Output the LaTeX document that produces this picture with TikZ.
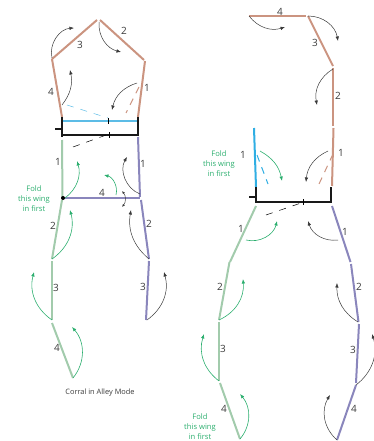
\documentclass[tikz,border=0pt]{standalone}
\usepackage{fontspec}
\setmainfont{Open Sans}
\usetikzlibrary{arrows.meta}
\definecolor{tanc}{HTML}{CB9480}
\definecolor{bluec}{HTML}{5CBCE6}
\definecolor{bluer}{HTML}{2FAEE3}
\definecolor{greenc}{HTML}{A2CBAC}
\definecolor{purpc}{HTML}{8A86BC}
\definecolor{agreen}{HTML}{2BAE6E}
\definecolor{dark}{HTML}{3A3A3A}
\tikzset{
 wing/.style={line width=2pt},
 post/.style={line width=1.8pt,black!90},
 tickm/.style={line width=0.7pt,black},
 dsh/.style={line width=0.5pt,dash pattern=on 7pt off 7pt},
 dshthick/.style={line width=1pt,dash pattern=on 7pt off 6pt},
 barr/.style={line width=0.5pt,dark,-{Latex[length=4.5pt,width=3.5pt]}},
 garr/.style={line width=0.6pt,agreen,-{Latex[length=4.5pt,width=3.5pt]}},
 num/.style={font=\fontsize{10}{10}\selectfont,text=dark,inner sep=0pt},
 fold/.style={font=\fontsize{7.6}{10}\selectfont,text=agreen,align=center,inner sep=0pt},
 captext/.style={font=\fontsize{7.4}{8}\selectfont,text=dark,inner sep=0pt},
}
\newcommand\seg[5]{\coordinate (#1s) at (#3);\coordinate (#1e) at (#4);\draw[#2,#5] (#1s) -- (#1e);}
\newcommand\bow[5]{\coordinate (#1s) at (#3);\coordinate (#1e) at (#4);\draw[#2] (#1s) to[#5] (#1e);}
\begin{document}
\begin{tikzpicture}[x=1pt,y=-1pt]
\useasboundingbox (0,0) rectangle (374,441);
% ---------- left figure
\seg{ta}{wing}{62,117}{52,59}{tanc}
\seg{tb}{wing}{52,59}{97,20}{tanc}
\seg{tc}{wing}{100,20}{144,60}{tanc}
\seg{td}{wing}{145,61}{138,117}{tanc}
\seg{bl}{wing}{62,121}{138,121}{bluec}
\seg{pa}{post}{62,117}{62,137}{}
\seg{pb}{post}{138,117}{138,136}{}
\seg{pc}{post}{62,135}{138,135}{}
\seg{pd}{post}{55,129}{62,129}{}
\seg{ka}{tickm}{108.5,118}{108.5,124}{}
\seg{kb}{tickm}{109.5,132}{109.5,138}{}
\seg{ga}{wing}{62,140}{62.5,198}{greenc}
\seg{gb}{wing}{62,200}{52,259}{greenc}
\seg{gc}{wing}{52,261}{52,320}{greenc}
\seg{gd}{wing}{52,323}{73,378}{greenc}
\seg{ua}{wing}{138,137}{140,197}{purpc}
\seg{ub}{wing}{63,198}{140,198}{purpc}
\seg{uc}{wing}{141,200}{149,259}{purpc}
\seg{ud}{wing}{149,261}{146,320}{purpc}
\node[circle,fill=black,inner sep=0pt,minimum size=4pt] (dot) at (63,198) {};
\seg{da}{dsh}{67,105}{108,118}{bluec}
\seg{db}{dshthick}{139,87}{126,113}{tanc}
\seg{dc}{dsh}{73,147}{109,134}{black}
\bow{aa}{barr}{52,58}{74,28}{bend left=50}
\bow{ab}{barr}{99,22}{121,52}{bend right=40}
\bow{ac}{barr}{62,105}{70,70}{bend right=25}
\bow{ad}{barr}{137,83}{112,110}{bend right=30}
\bow{ae}{garr}{65,198}{77,161}{bend right=35}
\bow{af}{garr}{116,195}{104,175}{bend right=45}
\bow{ag}{barr}{140,194}{127,157}{bend left=50}
\bow{ah}{barr,{Latex[length=3pt,width=2.5pt]}-{Latex[length=3pt,width=2.5pt]}}{122,191}{122,207}{bend left=40}
\bow{ai}{barr}{149,259}{131,210}{bend left=30}
\bow{aj}{garr}{52,259}{70,210}{bend right=35}
\bow{ak}{garr}{52,320}{34,272}{bend left=35}
\bow{al}{garr}{73,378}{72,327}{bend right=40}
\bow{am}{barr}{147,320}{164,272}{bend right=35}
\node[num] (n1) at (80,45) {3};
\node[num] (n2) at (124,31) {2};
\node[num] (n3) at (147,88) {1};
\node[num] (n4) at (51,92) {4};
\node[num] (n5) at (58,162) {1};
\node[num] (n6) at (102,193) {4};
\node[num] (n7) at (143,164) {1};
\node[num] (n8) at (53,226) {2};
\node[num] (n9) at (149,224) {2};
\node[num] (n10) at (56,288) {3};
\node[num] (n11) at (143,287) {3};
\node[num] (n12) at (57,348) {4};
\node[fold] (fa) at (34,199) {Fold\\this wing\\in first};
\node[captext] (cp) at (100,393) {Corral in Alley Mode};
% ---------- right figure
\seg{ra}{wing}{249,16}{306,16}{tanc}
\seg{rb}{wing}{308,16}{333,66}{tanc}
\seg{rc}{wing}{333,68}{333,126}{tanc}
\seg{rd}{wing}{333.5,128}{332,186}{tanc}
\seg{re}{wing}{254,128}{256,187}{bluer}
\seg{qa}{post}{256,187}{256,203}{}
\seg{qb}{post}{331,187}{331,203}{}
\seg{qc}{post}{256,202}{331,202}{}
\seg{qd}{post}{249,197}{256,197}{}
\seg{kc}{tickm}{303.5,199}{303.5,205}{}
\seg{rf}{wing}{256,206}{230,262}{greenc}
\seg{rg}{wing}{229.5,262}{219,320}{greenc}
\seg{rh}{wing}{219,322}{219,381}{greenc}
\seg{ri}{wing}{220,383}{240,439}{greenc}
\seg{rj}{wing}{332,206}{350.5,262}{purpc}
\seg{rk}{wing}{351,264}{358.5,322}{purpc}
\seg{rl}{wing}{359,324}{356,383}{purpc}
\seg{rm}{wing}{356,385}{337,440}{purpc}
\seg{dd}{dshthick}{257,155}{268,184}{bluer}
\seg{de}{dshthick}{333,154}{319,184}{tanc}
\seg{df}{dsh}{266,215}{304,202}{black}
\bow{ba}{barr}{249,16}{285,27}{bend right=35}
\bow{bb}{barr}{308,16}{338,41}{bend left=40}
\bow{bc}{barr}{333,69}{317,105}{bend right=35}
\bow{bd}{barr}{328,151}{306,182}{bend right=30}
\bow{be}{garr}{260,151}{282,181}{bend left=25}
\bow{bf}{garr}{246,240}{277,221}{bend right=45}
\bow{bg}{barr}{338,240}{308,221}{bend left=40}
\bow{bh}{garr}{219,320}{243,279}{bend right=35}
\bow{bi}{barr}{358,322}{337,283}{bend left=30}
\bow{bj}{garr}{219,381}{204,334}{bend left=35}
\bow{bk}{barr}{356,385}{372,334}{bend right=35}
\bow{bl}{garr}{240,439}{240,394}{bend right=40}
\bow{bm}{barr}{337,440}{330,395}{bend left=40}
\node[num] (m1) at (280,12) {4};
\node[num] (m2) at (315,43) {3};
\node[num] (m3) at (338,96) {2};
\node[num] (m4) at (243,155) {1};
\node[num] (m5) at (341,153) {1};
\node[num] (m6) at (241,229) {1};
\node[num] (m7) at (345,232) {1};
\node[num] (m8) at (220,287) {2};
\node[num] (m9) at (359,287) {2};
\node[num] (m10) at (223,349) {3};
\node[num] (m11) at (353,350) {3};
\node[num] (m12) at (224,409) {4};
\node[num] (m13) at (354,409) {4};
\node[fold] (fb) at (219,164) {Fold\\this wing\\in first};
\node[fold] (fc) at (200,427) {Fold\\this wing\\in first};
\end{tikzpicture}
\end{document}
